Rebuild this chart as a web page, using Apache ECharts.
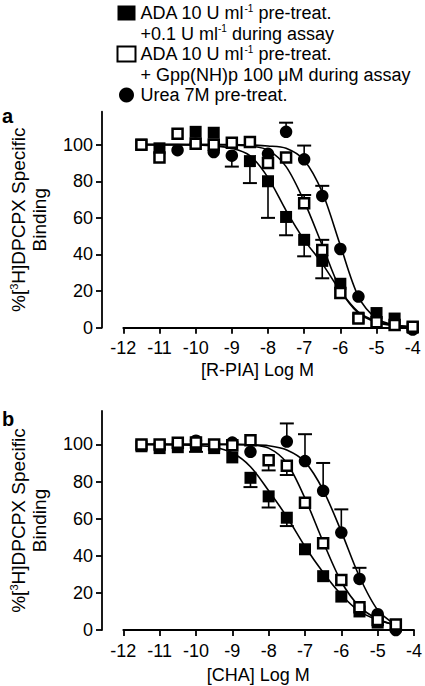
<!DOCTYPE html>
<html><head><meta charset="utf-8">
<script src="https://cdn.jsdelivr.net/npm/echarts@6/dist/echarts.min.js"></script>
<style>html,body{margin:0;padding:0;background:#fff}#c{width:425px;height:686px}</style>
</head><body><div id="c"></div>
<script>
// ---- Panel a: [R-PIA] ----
const xA = [-11.5,-11,-10.5,-10,-9.5,-9,-8.5,-8,-7.5,-7,-6.5,-6,-5.5,-5,-4.5,-4];
const aFilledSq = [100,98,null,107,106.5,null,91,80,60.5,48,36.5,24,5.5,8,5,0];
const aOpenSq   = [100,93,106,100.5,100,101,101.5,90,93,68,42.5,19,5,3,1.5,0.5];
const aCircle   = [null,null,97,100.5,96,94,null,95,107,92,72,43,17,null,null,-1];
const aFilledSqErr = [null,null,null,null,null,null,79,60,50.5,39,27,null,null,null,null,null];
const aOpenSqErr   = [null,null,null,null,null,null,null,null,null,72.5,48,null,null,null,null,null];
const aCircleErr   = [null,null,null,null,null,88,null,null,112,99.5,77.5,null,null,null,null,null];
const aCurveFilledSq = [100,100,100,99.8,99.3,98,94,82,64,48,35,20,8.5,3.5,1.3,0.5];
const aCurveOpenSq   = [100,100,100,100,100,99.8,99.3,97,88,69,45,21,8,3,1,0.3];
const aCurveCircle   = [100,100,100,100,100,100,99.8,99.3,98,91.5,74,45,17,5,1.5,0.5];

// ---- Panel b: [CHA] ----
const xB = [-11.5,-11,-10.5,-10,-9.5,-9,-8.5,-8,-7.5,-7,-6.5,-6,-5.5,-5,-4.5];
const bFilledSq = [99,98,98.5,99,98,93,82,72,60.5,43.5,29,18,10,4,2];
const bOpenSq   = [100,100,100.9,101,100,99.5,102.3,91.5,88.5,68.6,46.7,26.9,12.2,5.4,3];
const bCircle   = [null,null,null,102,null,101,96,null,101.5,91,75,52.5,27.5,8.5,0];
const bFilledSqErr = [null,null,null,null,null,null,77,66,56,null,null,null,null,null,null];
const bOpenSqErr   = [null,null,null,null,null,null,null,86,83.5,null,null,null,null,null,null];
const bCircleErr   = [null,null,null,96,null,null,null,null,111.3,105.5,90,65,33.5,null,null];
const bCurveFilledSq = [100,100,99.8,99.5,98.5,95.5,88,75,61,45,31,19,10,5.4,2.7];
const bCurveOpenSq   = [100,100,100,100,100,100,99.7,98,90,71,47.5,26,12.6,5.9,2.5];
const bCurveCircle   = [100,100,100,100,100,100,99.8,99.3,97,90.6,75.4,53,28.7,10.8,2.7];

const yTicks = [0,20,40,60,80,100];
const xTicks = [-12,-11,-10,-9,-8,-7,-6,-5,-4];

const FONT = '"Liberation Sans", Arial, Helvetica, sans-serif';
const supStyle = {fontSize:10, lineHeight:14, verticalAlign:'top', color:'#000', fontFamily:FONT};
const legendText = {
  sqFilled: 'ADA 10 U ml{sup|-1} pre-treat.',
  l2a: '+0.1 U ml{sup|-1} during assay',
  sqOpen: 'ADA 10 U ml{sup|-1} pre-treat.',
  l2b: '+ Gpp(NH)p 100 \u03bcM during assay',
  circle: 'Urea 7M pre-treat.'
};

function pairs(xs, ys){ const o=[]; xs.forEach((x,i)=>{ if(ys[i]!=null) o.push([x,ys[i]]); }); return o; }
function errData(xs, ys, ends){ const o=[]; xs.forEach((x,i)=>{ if(ends[i]!=null && ys[i]!=null) o.push([x,ys[i],ends[i]]); }); return o; }

function renderErr(params, api){
  const x = api.value(0), y0 = api.value(1), y1 = api.value(2);
  const p0 = api.coord([x,y0]), p1 = api.coord([x,y1]);
  return {type:'group', children:[
    {type:'line', shape:{x1:p0[0],y1:p0[1],x2:p1[0],y2:p1[1]}, style:{stroke:'#000',lineWidth:1.6}},
    {type:'line', shape:{x1:p1[0]-7,y1:p1[1],x2:p1[0]+7,y2:p1[1]}, style:{stroke:'#000',lineWidth:2}}
  ]};
}

function panelSeries(g, xs, fs, os, cs, fe, oe, ce, cf, co, cc){
  const line = d => ({type:'line', xAxisIndex:g, yAxisIndex:g, data:pairs(xs,d), symbol:'none', smooth:0.3,
    lineStyle:{color:'#000', width:1.6, opacity:1}, silent:true, z:2, clip:false});
  const err = (ys,e) => ({type:'custom', xAxisIndex:g, yAxisIndex:g, data:errData(xs,ys,e), renderItem:renderErr,
    encode:{x:0,y:1}, z:3, silent:true, clip:false});
  return [
    line(cf), line(co), line(cc),
    err(fs,fe), err(os,oe), err(cs,ce),
    {name:'sqFilled', type:'scatter', xAxisIndex:g, yAxisIndex:g, data:pairs(xs,fs), symbol:'rect', symbolSize:12,
      itemStyle:{color:'#000', opacity:1}, z:4, clip:false},
    {name:'circle', type:'scatter', xAxisIndex:g, yAxisIndex:g, data:pairs(xs,cs), symbol:'circle', symbolSize:12.5,
      itemStyle:{color:'#000', opacity:1}, z:5, clip:false},
    {name:'sqOpen', type:'scatter', xAxisIndex:g, yAxisIndex:g, data:pairs(xs,os), symbol:'rect', symbolSize:10,
      itemStyle:{color:'#fff', borderColor:'#000', borderWidth:2.5, opacity:1}, z:6, clip:false}
  ];
}

function xAxisCfg(g, name, gap, pad){
  return {gridIndex:g, type:'value', min:-12, max:-4, interval:1, offset:2.5,
    axisLine:{show:true, lineStyle:{color:'#000', width:1.8}},
    axisTick:{show:true, length:6, lineStyle:{color:'#000', width:1.8}},
    axisLabel:{fontSize:18, color:'#000', margin:9, fontFamily:FONT},
    splitLine:{show:false},
    name:name, nameLocation:'middle', nameGap:gap,
    nameTextStyle:{fontSize:18, color:'#000', fontFamily:FONT, padding:pad}};
}
function yAxisCfg(g){
  return {gridIndex:g, type:'value', min:0, max:118, offset:21.3,
    axisLine:{show:true, lineStyle:{color:'#000', width:1.8}},
    axisTick:{show:true, length:6, customValues:yTicks, lineStyle:{color:'#000', width:1.8}},
    axisLabel:{customValues:yTicks, fontSize:18, color:'#000', margin:9, fontFamily:FONT},
    splitLine:{show:false},
    name:'%[{sup|3}H]DPCPX Specific\nBinding', nameLocation:'middle', nameGap:52, nameRotate:90,
    nameTextStyle:{fontSize:19, lineHeight:21, color:'#000', fontFamily:FONT, align:'center',
      rich:{sup:{fontSize:11, lineHeight:14, verticalAlign:'top', color:'#000', fontFamily:FONT}}}};
}

const chart = echarts.init(document.getElementById('c'), null, {renderer:'svg'});
chart.setOption({
  animation:false,
  backgroundColor:'#fff',
  textStyle:{fontFamily:FONT},
  title:[
    {text:'a', left:2, top:106, padding:0, textStyle:{fontSize:20, fontWeight:'bold', color:'#000', fontFamily:FONT}},
    {text:'b', left:2, top:409, padding:0, textStyle:{fontSize:20, fontWeight:'bold', color:'#000', fontFamily:FONT}}
  ],
  legend:{orient:'vertical', left:116.5, top:3, padding:0, itemWidth:18, itemHeight:15, itemGap:0.5, selectedMode:false,
    data:[{name:'sqFilled'},{name:'l2a',icon:'none'},{name:'sqOpen'},{name:'l2b',icon:'none'},{name:'circle'}],
    formatter:n=>legendText[n],
    textStyle:{fontSize:18, lineHeight:20, color:'#000', fontFamily:FONT, rich:{sup:supStyle}}},
  grid:[
    {left:107.3, right:12.3, top:111.7, bottom:358.3},
    {left:107.3, right:8.3, top:411, bottom:56}
  ],
  xAxis:[ xAxisCfg(0,'[R-PIA] Log M',31,[0,21,0,0]), xAxisCfg(1,'[CHA] Log M',33,[0,21,0,0]) ],
  yAxis:[ yAxisCfg(0), yAxisCfg(1) ],
  series:[
    {name:'l2a', type:'scatter', data:[], xAxisIndex:0, yAxisIndex:0},
    {name:'l2b', type:'scatter', data:[], xAxisIndex:0, yAxisIndex:0},
    ...panelSeries(0, xA, aFilledSq, aOpenSq, aCircle, aFilledSqErr, aOpenSqErr, aCircleErr, aCurveFilledSq, aCurveOpenSq, aCurveCircle),
    ...panelSeries(1, xB, bFilledSq, bOpenSq, bCircle, bFilledSqErr, bOpenSqErr, bCircleErr, bCurveFilledSq, bCurveOpenSq, bCurveCircle)
  ]
});
</script></body></html>
